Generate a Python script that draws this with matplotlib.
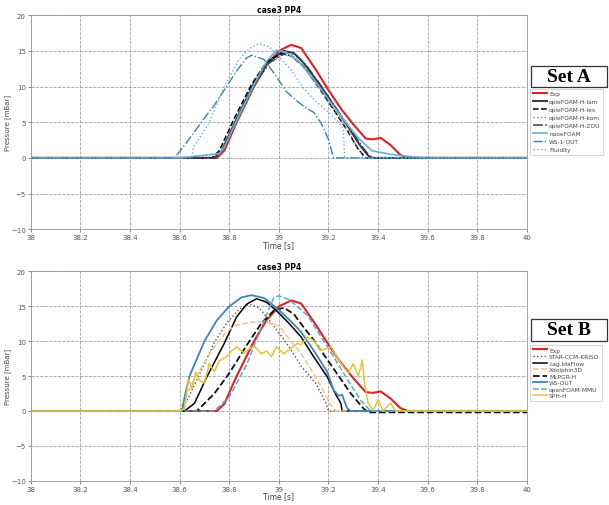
import matplotlib
matplotlib.use("Agg")
import matplotlib.pyplot as plt
from matplotlib.patches import Rectangle
import numpy as np

# ---- data (time [s], pressure [mBar]) ----
exp_t = [38.0, 38.75, 38.78, 38.83, 38.90, 38.95, 39.00, 39.05, 39.09, 39.15, 39.20,
         39.25, 39.30, 39.35, 39.38, 39.41, 39.45, 39.49, 39.52, 40.0]
exp_p = [0, 0, 1.0, 5.0, 10.0, 13.0, 15.0, 15.85, 15.4, 12.3, 9.5,
         6.9, 4.7, 2.7, 2.6, 2.8, 1.8, 0.4, 0, 0]

# Set A
lam_t = [38.0, 38.74, 38.77, 38.83, 38.90, 38.96, 39.02, 39.06, 39.10, 39.16, 39.22, 39.28, 39.33, 39.36, 39.38, 40.0]
lam_p = [0, 0, 1.0, 5.5, 10.5, 13.6, 15.0, 14.7, 13.3, 10.5, 7.4, 4.3, 1.6, 0.3, 0, 0]
les_t = [38.0, 38.73, 38.76, 38.82, 38.89, 38.95, 39.01, 39.05, 39.10, 39.16, 39.22, 39.28, 39.32, 39.35, 40.0]
les_p = [0, 0, 1.0, 5.5, 10.3, 13.4, 14.6, 14.3, 12.8, 9.9, 6.8, 3.6, 1.2, 0, 0]
kom_t = [38.0, 38.74, 38.77, 38.83, 38.90, 38.96, 39.02, 39.06, 39.10, 39.16, 39.22, 39.28, 39.32, 39.345, 40.0]
kom_p = [0, 0, 0.8, 5.2, 10.0, 13.2, 14.5, 14.2, 12.9, 10.0, 6.9, 3.7, 1.3, 0, 0]
zou_t = [38.0, 38.74, 38.77, 38.83, 38.90, 38.96, 39.03, 39.07, 39.11, 39.17, 39.23, 39.29, 39.34, 39.37, 40.0]
zou_p = [0, 0, 1.0, 5.4, 10.2, 13.3, 14.8, 14.4, 13.0, 10.1, 7.0, 3.9, 1.4, 0, 0]
naoe_t = [38.0, 38.60, 38.76, 38.78, 38.84, 38.90, 38.95, 38.99, 39.03, 39.08, 39.14,
          39.20, 39.26, 39.32, 39.375, 39.45, 39.55, 39.62, 40.0]
naoe_p = [0, 0, 0.6, 1.5, 6.0, 10.3, 13.5, 15.1, 14.8, 13.5, 11.0,
          8.2, 5.4, 2.8, 1.0, 0.5, 0.1, 0, 0]
ws1_t = [38.0, 38.58, 38.64, 38.69, 38.74, 38.78, 38.83, 38.87, 38.89, 38.94, 38.98,
         39.03, 39.075, 39.11, 39.14, 39.17, 39.20, 39.22, 40.0]
ws1_p = [0, 0, 2.7, 5.1, 7.4, 9.5, 12.2, 14.0, 14.4, 13.8, 11.9,
         9.3, 7.9, 7.0, 6.4, 4.9, 2.6, 0, 0]
flu_t = [38.0, 38.65, 38.655, 38.72, 38.78, 38.84, 38.88, 38.92, 38.96, 39.00, 39.05,
         39.09, 39.14, 39.21, 39.25, 39.26, 39.265, 40.0]
flu_p = [0, 0, 1.4, 5.0, 10.0, 13.8, 15.3, 16.0, 15.6, 14.2, 12.3,
         10.2, 8.2, 6.1, 4.6, 4.0, 0, 0]

# Set B
star_t = [38.0, 38.60, 38.63, 38.69, 38.74, 38.79, 38.84, 38.88, 38.92, 38.97, 39.03, 39.09, 39.15, 39.19, 39.20, 40.0]
star_p = [0, 0, 1.5, 6.0, 9.8, 12.6, 14.6, 15.3, 14.8, 12.6, 9.8, 6.4, 3.9, 1.1, 0, 0]
ida_t = [38.0, 38.62, 38.66, 38.71, 38.78, 38.83, 38.87, 38.91, 38.95, 38.99, 39.04,
         39.09, 39.14, 39.195, 39.23, 39.25, 39.255, 40.0]
ida_p = [0, 0, 1.1, 4.9, 9.7, 13.5, 15.3, 16.1, 15.6, 14.4, 12.6,
         10.6, 7.8, 4.9, 2.3, 1.1, 0, 0]
xdo_t = [38.0, 38.60, 38.65, 38.73, 38.78, 38.82, 38.88, 38.94, 39.00, 39.04, 39.09, 39.14, 39.18, 39.21, 39.23, 40.0]
xdo_p = [0, 0, 4.0, 8.7, 11.0, 12.2, 12.7, 12.8, 12.2, 10.4, 8.2, 5.4, 2.8, 0.8, 0, 0]
mlp_t = [38.0, 38.67, 38.74, 38.80, 38.87, 38.93, 38.98, 39.02, 39.06, 39.10, 39.14,
         39.22, 39.29, 39.34, 39.36, 39.40, 40.0]
mlp_p = [0, 0, 2.5, 5.4, 9.4, 12.6, 14.4, 14.8, 13.9, 12.0, 10.2,
         6.1, 2.5, 0.4, -0.2, -0.2, -0.2]
ws_t = [38.0, 38.61, 38.62, 38.64, 38.70, 38.75, 38.80, 38.85, 38.89, 38.94, 39.00,
        39.05, 39.09, 39.14, 39.195, 39.22, 39.24, 39.255, 39.275, 39.29, 40.0]
ws_p = [0, 0, 2.0, 5.0, 10.0, 13.0, 15.0, 16.3, 16.6, 16.2, 14.5,
        12.8, 11.3, 8.7, 5.6, 3.0, 2.2, 2.3, 0.4, 0, 0]
mmu_t = [38.0, 38.74, 38.80, 38.87, 38.93, 38.98, 39.00, 39.04, 39.08, 39.115, 39.16,
         39.22, 39.28, 39.33, 39.37, 40.0]
mmu_p = [0, 0, 2.0, 6.6, 12.0, 16.3, 16.5, 16.0, 14.8, 13.7, 11.2,
         7.8, 4.3, 1.5, 0, 0]
sph_t = [38.0, 38.60, 38.62, 38.635, 38.65, 38.665, 38.68, 38.70, 38.72, 38.74, 38.76,
         38.79, 38.81, 38.83, 38.86, 38.88, 38.90, 38.93, 38.95, 38.97, 38.99, 39.02,
         39.05, 39.075, 39.09, 39.115, 39.14, 39.17, 39.21, 39.25, 39.28, 39.30, 39.32,
         39.336, 39.345, 39.36, 39.38, 39.40, 39.42, 39.45, 39.47, 39.50, 40.0]
sph_p = [0, 0, 0.3, 4.5, 3.3, 5.5, 4.4, 4.0, 6.8, 5.6, 7.2,
         7.8, 8.6, 9.2, 8.3, 8.9, 9.3, 8.2, 8.6, 7.8, 9.2, 8.2,
         9.0, 9.7, 9.5, 10.6, 10.1, 8.7, 9.2, 6.8, 5.4, 6.8, 4.9,
         7.3, 4.0, 1.1, 0.1, 1.6, 0, 1.1, 0, 0, 0]

set_a = [
    (exp_t, exp_p, 'Exp', '#e41f26', '-', 1.5),
    (lam_t, lam_p, 'opleFOAM-H-lam', '#3a3a3a', '-', 1.4),
    (les_t, les_p, 'opleFOAM-H-les', '#000000', '--', 1.1),
    (kom_t, kom_p, 'opleFOAM-H-kom', '#808080', ':', 1.0),
    (zou_t, zou_p, 'opleFOAM-H-ZOU', '#2c3e5a', '-.', 1.1),
    (naoe_t, naoe_p, 'naoeFOAM', '#5db3d5', '-', 1.2),
    (ws1_t, ws1_p, 'WS-1-OUT', '#3f7fa8', '-.', 1.0),
    (flu_t, flu_p, 'Fluidity', '#6aaed0', ':', 1.0),
]
set_b = [
    (exp_t, exp_p, 'Exp', '#e41f26', '-', 1.5),
    (star_t, star_p, 'STAR-CCM-KRISO', '#505050', ':', 1.0),
    (ida_t, ida_p, 'Lag.IdaFlow', '#000000', '-', 1.1),
    (xdo_t, xdo_p, 'Xdolphin3D', '#f2c48a', '--', 1.1),
    (mlp_t, mlp_p, 'MLPGR-H', '#111111', '--', 1.3),
    (ws_t, ws_p, 'WS-OUT', '#3d86b8', '-', 1.3),
    (mmu_t, mmu_p, 'openFOAM-MMU', '#5aa8cf', '--', 1.1),
    (sph_t, sph_p, 'SPH-H', '#e8c238', '-', 1.1),
]

fig = plt.figure(figsize=(6.09, 5.06), dpi=100)
ax_a = fig.add_axes([0.0504, 0.545, 0.815, 0.423])
ax_b = fig.add_axes([0.0504, 0.048, 0.815, 0.4135])

xticks = np.round(np.arange(38.0, 40.01, 0.2), 1)
xlabels = ['%g' % v for v in xticks]

# (axes, series, tag, legend top, tag box bottom, tag box top, legend row spacing)
panels = [(ax_a, set_a, 'Set A', 0.822, 0.826, 0.868, 0.5),
          (ax_b, set_b, 'Set B', 0.316, 0.324, 0.368, 0.25)]

for ax, series, tag, leg_y, by0, by1, lsp in panels:
    for t, p, name, col, ls, lw in series:
        ax.plot(t, p, color=col, ls=ls, lw=lw, label=name)
    ax.set_xlim(38, 40)
    ax.set_ylim(-10, 20)
    ax.set_xticks(xticks)
    ax.set_xticklabels(xlabels)
    ax.set_yticks(range(-10, 21, 5))
    ax.grid(True, color='#a0a0a0', ls='--', lw=0.6)
    ax.tick_params(labelsize=5, colors='#555555', length=2, width=0.5, pad=1.5)
    for s in ax.spines.values():
        s.set_color('#999999')
        s.set_linewidth(0.6)
    ax.set_title('case3 PP4', fontsize=5.5, fontweight='bold', pad=2)
    ax.set_xlabel('Time [s]', fontsize=5.5, color='#444444', labelpad=0)
    ax.set_ylabel('Pressure [mBar]', fontsize=5, color='#444444', labelpad=0)

    leg = ax.legend(loc='upper left', bbox_to_anchor=(0.871, leg_y),
                    bbox_transform=fig.transFigure, fontsize=4.2, frameon=True,
                    fancybox=False, handlelength=2.4, handletextpad=0.4,
                    labelspacing=lsp, borderpad=0.4, borderaxespad=0)
    leg.get_frame().set_edgecolor('#bbbbbb')
    leg.get_frame().set_linewidth(0.5)
    for txt in leg.get_texts():
        txt.set_color('#444444')

    fig.patches.append(Rectangle((0.872, by0), 0.125, by1 - by0, transform=fig.transFigure,
                                 fc='white', ec='#333333', lw=0.9))
    fig.text(0.9345, (by0 + by1) / 2, tag, fontsize=14, fontweight='bold',
             family='Liberation Serif', ha='center', va='center')

fig.savefig('out.png', dpi=100)
